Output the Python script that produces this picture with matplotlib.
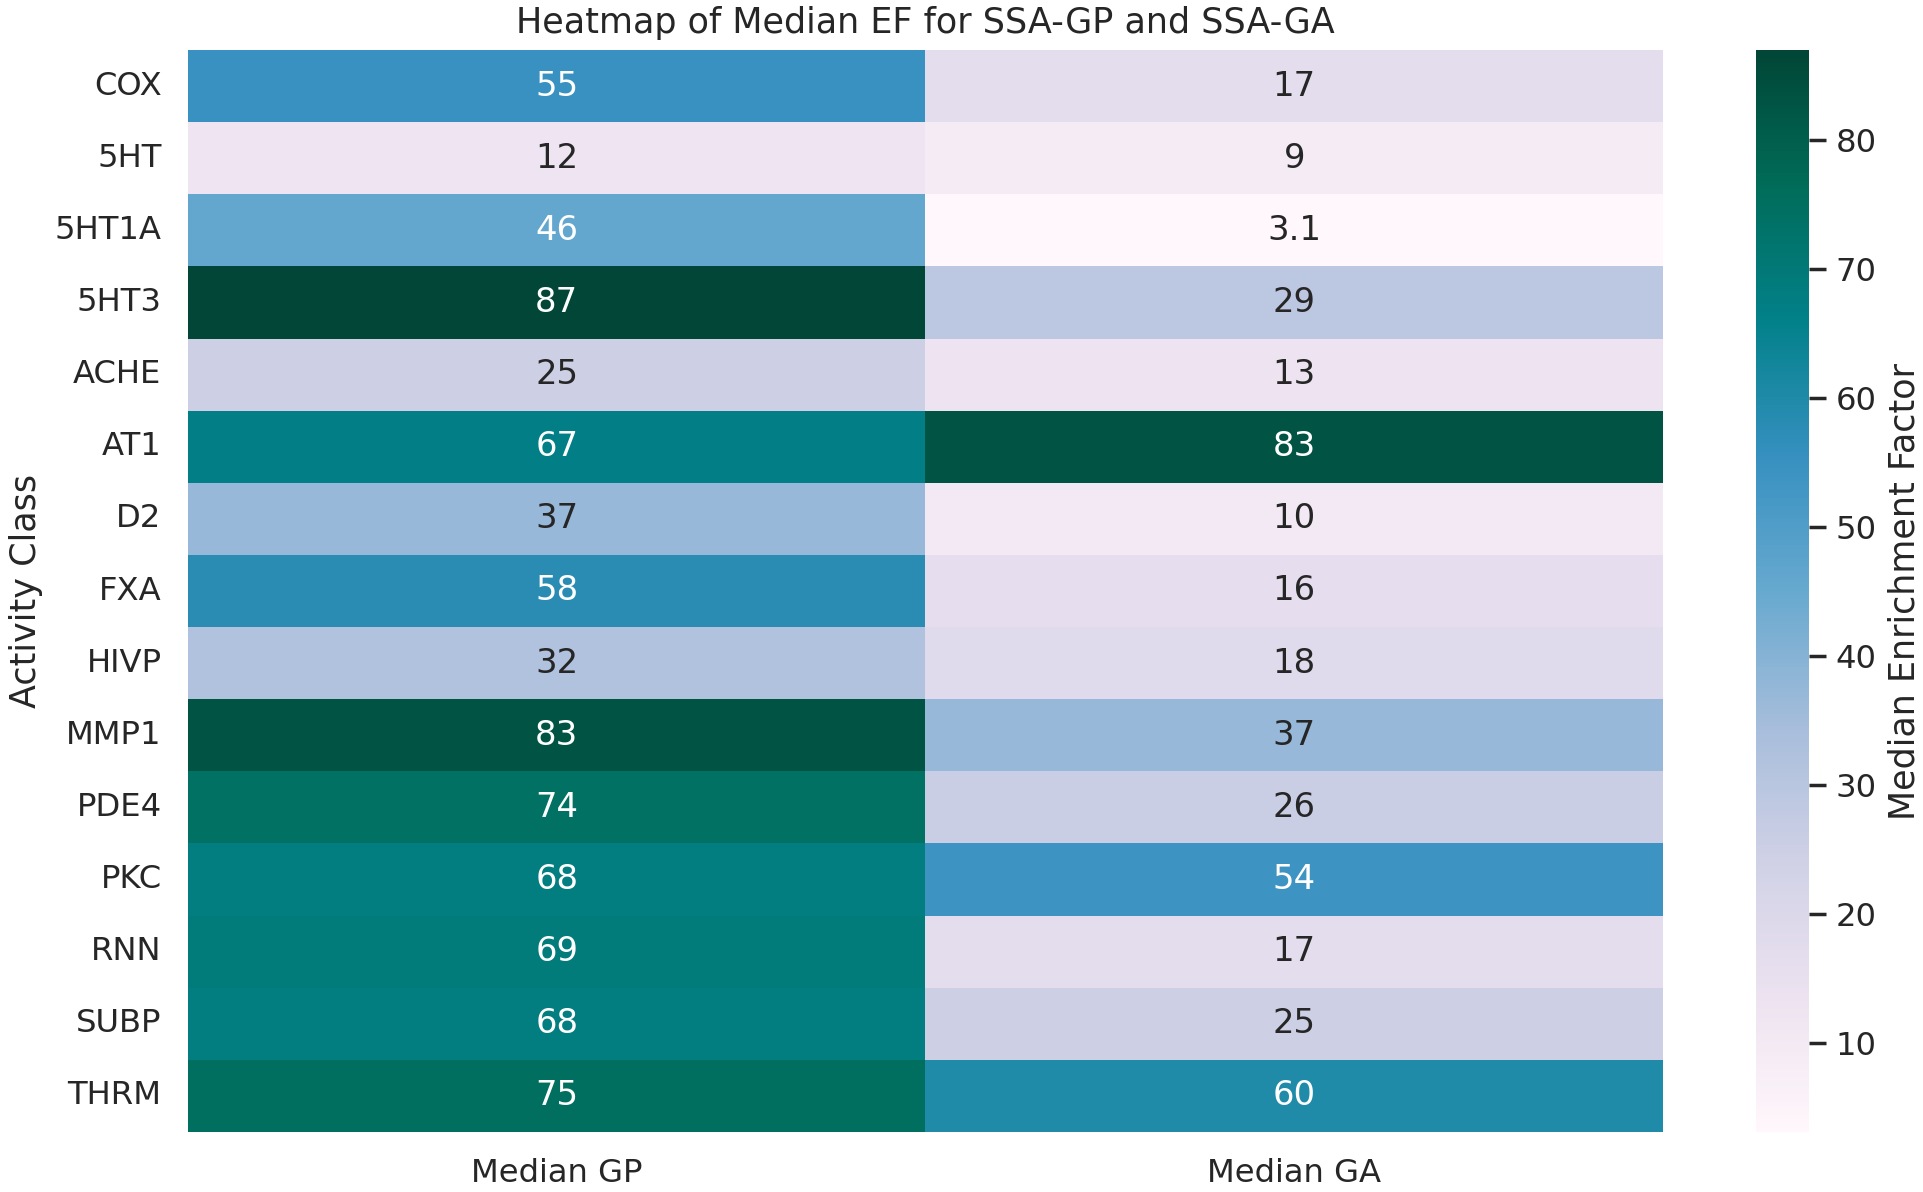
import matplotlib
matplotlib.use("Agg")
import matplotlib.pyplot as plt
import seaborn as sns
import numpy as np
import pandas as pd

classes = ["COX", "5HT", "5HT1A", "5HT3", "ACHE", "AT1", "D2", "FXA", "HIVP",
           "MMP1", "PDE4", "PKC", "RNN", "SUBP", "THRM"]
median_gp = [55, 12, 46, 87, 25, 67, 37, 58, 32, 83, 74, 68, 69, 68, 75]
median_ga = [17, 9, 3.1, 29, 13, 83, 10, 16, 18, 37, 26, 54, 17, 25, 60]
columns = ["Median GP", "Median GA"]

df = pd.DataFrame({columns[0]: median_gp, columns[1]: median_ga}, index=classes)

sns.set_theme(style="white", context="notebook")
plt.rcParams['font.family'] = ['DejaVu Sans']
plt.rcParams.update({
    "xtick.major.size": 6, "ytick.major.size": 6,
    "xtick.major.width": 1.25, "ytick.major.width": 1.25,
    "xtick.major.pad": 3.5, "ytick.major.pad": 3.5,
    "xtick.bottom": False, "ytick.left": False,
    "xtick.labelsize": 11.6, "ytick.labelsize": 11.6,
    "ytick.color": ".15", "xtick.color": ".15",
})

W, H, DPI = 1923, 1192, 200
fig = plt.figure(figsize=(W / DPI, H / DPI), dpi=DPI)
ax = fig.add_axes([188 / W, 1 - 1132 / H, (1663 - 188) / W, (1132 - 50) / H])
cax = fig.add_axes([1756 / W, 1 - 1132 / H, (1809 - 1756) / W, (1132 - 50) / H])

sns.heatmap(df, annot=True, fmt=".2g", cmap="PuBuGn", ax=ax, cbar_ax=cax,
            annot_kws={"fontsize": 12.2})
ax.set_title("Heatmap of Median EF for SSA-GP and SSA-GA", fontsize=12.6, pad=6)
ax.set_ylabel("Activity Class", fontsize=12.6)
ax.set_xlabel("")
ax.tick_params(axis="y", rotation=0)
ax.tick_params(axis="x", rotation=0)

cax.set_ylabel("Median Enrichment Factor", fontsize=12.6)
cax.yaxis.set_ticks_position("right")
cax.tick_params(axis="y", which="major", length=6, width=1.25, pad=3.5,
                right=True, left=False, color=".15", labelsize=11.6)

fig.savefig("out.png", dpi=DPI)
